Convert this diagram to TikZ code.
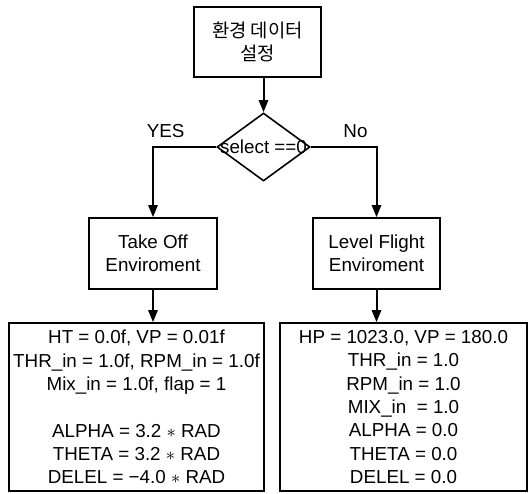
\documentclass[tikz,border=0pt]{standalone}
\usepackage{fontspec}
\setmainfont{Liberation Sans}
\newfontfamily\krfont{Noto Sans CJK KR}
\usepackage{tikz}
\usetikzlibrary{arrows.meta,shapes.geometric}

\begin{document}
\begin{tikzpicture}[x=0.5pt,y=-0.5pt,
  font=\fontsize{9.4}{11.65}\selectfont,
  box/.style={draw,line width=0.8pt,inner sep=0pt,align=center},
  flow/.style={line width=1pt,-{Triangle[length=6pt,width=4.6pt]}}]
  \useasboundingbox (0,0) rectangle (528,493);
  % setup
  \node[box,minimum width=63.5pt,minimum height=35pt,
        font=\krfont\fontsize{9.4}{11.5}\selectfont] (env) at (257.5,42)
       {환경 데이터\\설정};
  % decision
  \node[box,diamond,minimum width=46.5pt,minimum height=34pt] (sel)
       at (263.5,147) {\makebox[0pt]{select ==0}};
  % environments
  \node[box,minimum width=64pt,minimum height=35.5pt] (takeoff) at (153,253.5)
       {Take Off\\Enviroment};
  \node[box,minimum width=63.5pt,minimum height=35.5pt] (level) at (376.5,253.5)
       {Level Flight\\Enviroment};
  % initial values
  \node[box,minimum width=127.5pt,minimum height=84pt] (toinit) at (136.5,407)
       {HT = 0.0f, VP = 0.01f\\
        THR\_in = 1.0f, RPM\_in = 1.0f\\
        Mix\_in = 1.0f, flap = 1\\[11.65pt]
        ALPHA = 3.2 $\ast$ RAD\\
        THETA = 3.2 $\ast$ RAD\\
        DELEL = −4.0 $\ast$ RAD};
  \node[box,minimum width=123.5pt,minimum height=84pt] (lvinit) at (403.5,407)
       {HP = 1023.0, VP = 180.0\\
        THR\_in = 1.0\\
        RPM\_in = 1.0\\
        MIX\_in \ = 1.0\\
        ALPHA = 0.0\\
        THETA = 0.0\\
        DELEL = 0.0};
  % connectors
  \draw[flow] (env.south -| sel.north) -- (sel.north);
  \draw[flow] (sel.west) -| node[pos=0.4,above=1pt] (yes) {YES} (takeoff.north);
  \draw[flow] (sel.east) -| node[pos=0.34,above=1pt] (no) {No} (level.north);
  \draw[flow] (takeoff.south) -- (takeoff.south |- toinit.north);
  \draw[flow] (level.south) -- (level.south |- lvinit.north);
\end{tikzpicture}
\end{document}
